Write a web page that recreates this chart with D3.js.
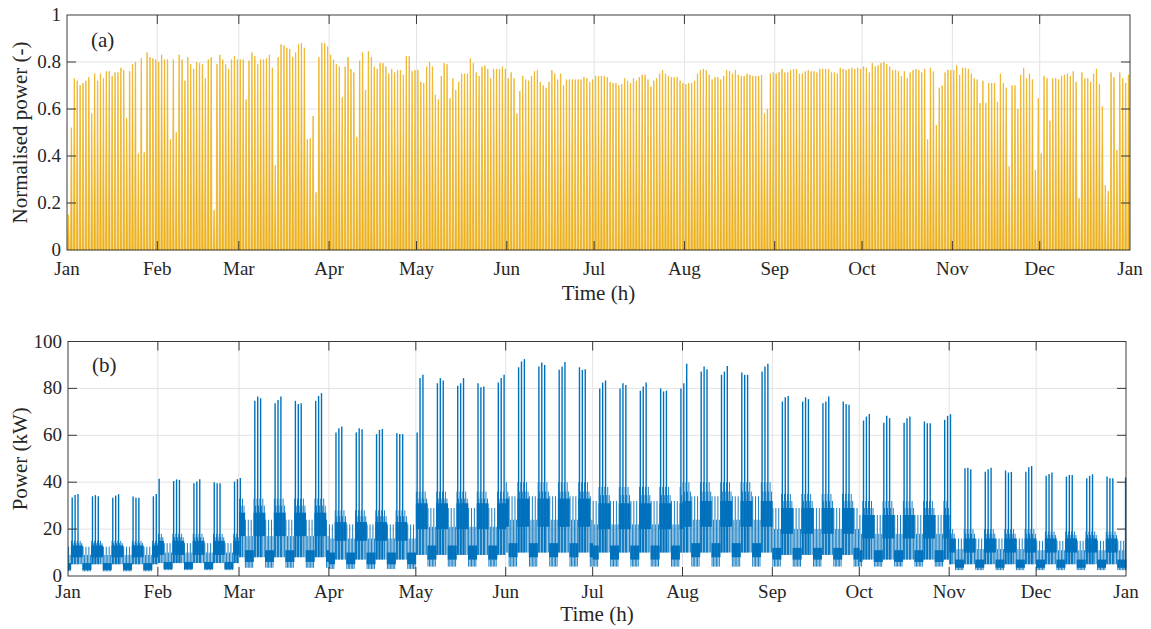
<!DOCTYPE html>
<html><head><meta charset="utf-8">
<script src="https://cdn.jsdelivr.net/npm/d3@7"></script>
<style>
body{margin:0;background:#fff}
svg{display:block}
text{font-family:"Liberation Serif","Times New Roman",serif;fill:#262626}
</style>
</head><body>
<svg id="c" width="1151" height="629"></svg>
<script>
// ---------- shared axis data ----------
const monthLabels = ["Jan","Feb","Mar","Apr","May","Jun","Jul","Aug","Sep","Oct","Nov","Dec","Jan"];
const monthStarts = [0,31,59,90,120,151,181,212,243,273,304,334,365];

// ---------- panel (a): daily peak of normalised PV power ----------
const pvJan = [0.15,0.52,0.73,0.72,0.70,0.71,0.72,0.735,0.58,0.75,0.72,0.75,0.73,0.76,0.76,0.74,0.755,0.755,0.775,0.765,0.56,0.76,0.79,0.80,0.41,0.815,0.415,0.84,0.82,0.815,0.81];
const pvFeb = [0.80,0.83,0.81,0.81,0.47,0.81,0.50,0.83,0.81,0.72,0.82,0.79,0.77,0.80,0.795,0.79,0.73,0.81,0.82,0.17,0.79,0.83,0.81,0.79,0.77,0.81,0.825,0.81];
const pvMar = [0.81,0.81,0.64,0.805,0.84,0.825,0.79,0.81,0.81,0.815,0.83,0.775,0.36,0.82,0.875,0.87,0.86,0.855,0.82,0.84,0.875,0.88,0.86,0.47,0.475,0.57,0.245,0.82,0.88,0.88,0.865];
const pvApr = [0.83,0.81,0.79,0.78,0.65,0.78,0.82,0.77,0.755,0.48,0.805,0.84,0.68,0.845,0.82,0.78,0.77,0.795,0.795,0.78,0.75,0.77,0.755,0.765,0.765,0.745,0.825,0.825,0.76,0.765];
const pvMay = [0.765,0.715,0.71,0.78,0.80,0.78,0.66,0.64,0.74,0.795,0.79,0.645,0.73,0.68,0.715,0.75,0.75,0.75,0.815,0.795,0.755,0.74,0.78,0.785,0.77,0.73,0.77,0.77,0.77,0.78,0.77];
const pvJun = [0.73,0.755,0.73,0.58,0.675,0.74,0.725,0.72,0.74,0.76,0.765,0.715,0.70,0.69,0.715,0.765,0.75,0.725,0.75,0.70,0.725,0.725,0.725,0.725,0.725,0.725,0.735,0.73,0.715,0.725];
const pvJul = [0.74,0.74,0.74,0.74,0.735,0.715,0.71,0.71,0.70,0.705,0.73,0.72,0.71,0.73,0.72,0.735,0.745,0.745,0.725,0.695,0.72,0.73,0.75,0.765,0.75,0.74,0.735,0.735,0.735,0.72,0.71];
const pvAug = [0.705,0.71,0.71,0.72,0.75,0.765,0.77,0.765,0.745,0.725,0.735,0.735,0.725,0.74,0.765,0.76,0.75,0.765,0.745,0.74,0.74,0.75,0.745,0.74,0.74,0.74,0.745,0.58,0.60,0.75,0.755];
const pvSep = [0.75,0.755,0.77,0.755,0.755,0.765,0.77,0.77,0.75,0.75,0.76,0.765,0.76,0.76,0.755,0.77,0.77,0.77,0.77,0.755,0.755,0.75,0.775,0.77,0.765,0.77,0.775,0.77,0.775,0.77];
const pvOct = [0.78,0.775,0.755,0.795,0.78,0.785,0.795,0.80,0.79,0.78,0.765,0.765,0.76,0.74,0.76,0.73,0.755,0.765,0.77,0.765,0.755,0.77,0.47,0.775,0.76,0.53,0.69,0.70,0.755,0.765,0.765];
const pvNov = [0.765,0.785,0.745,0.775,0.775,0.77,0.75,0.73,0.725,0.625,0.72,0.625,0.71,0.71,0.71,0.63,0.75,0.71,0.69,0.355,0.70,0.70,0.60,0.745,0.775,0.73,0.75,0.725,0.34,0.645];
const pvDec = [0.41,0.74,0.73,0.55,0.73,0.73,0.725,0.74,0.745,0.75,0.74,0.76,0.715,0.22,0.755,0.73,0.73,0.715,0.75,0.77,0.705,0.61,0.275,0.25,0.755,0.735,0.425,0.755,0.73,0.71,0.745];
const pvTicks = [0,0.2,0.4,0.6,0.8,1];

// ---------- panel (b): load power ----------
const kwTicks = [0,20,40,60,80,100];
// type of each day of the 7-day cycle (day 0 = 1 Jan)
const weekdayType = ["off","spike","spike","spike","work","off","off"];
// three daily peaks of every weekly peak cluster (kW)
const spikePeaks = [
 [33.5,34.5,35],[34,34.5,34],[33.4,34.3,34.9],[33.9,33.4,33.4],[34,35,41.5],
 [40.5,41.2,41],[39.5,40.3,41.3],[40,39.5,39.5],[40.3,41.3,41.8],
 [74.7,76.5,75.8],[73.7,75.1,76.5],[74.7,73.4,73.7],[74.7,76.8,78],
 [61.2,63,63.7],[61.2,63,62.6],[60.5,62.3,62.7],[60.9,60.6,60.5],
 [61.2,84.4,85.8],[82.2,84.4,83.4],[81.1,82.2,84.4],[82.2,80.5,80.8],[82.5,84.4,85.8],
 [89,91.5,92.5],[89.3,91,90],[87.9,89.3,91.3],[89,87.9,88.2],
 [80,82.5,83.4],[80,82.2,81.5],[79,80.8,82.5],[80,78.7,79],
 [80,82.2,90.5],[87.2,89.3,88.2],[85.8,87.2,89.6],[86.8,85.8,85.8],[87.2,89.3,90.5],
 [74.4,76.2,76.8],[74.4,76.2,75.4],[73.7,74.4,76.5],[74.4,73.4,73],
 [66.3,68,69.1],[65.4,68.3,67.3],[65.4,67.3,68],[65.9,65.1,65.1],[66.6,68.3,69],
 [46,46.2,45.5],[44.5,45.5,46.2],[45,44.1,44.4],[44.5,46.4,46.9],
 [42.7,43.5,44.1],[42.4,43.1,43.1],[41.7,42.7,43.4],[42.4,41.7,41.7]
];
const yearEndPeak = 42;
// monthly levels of the daily load (kW)
const workMin = [5,5.5,8,7,9,10,10,10,9,7,5,5];
const workLo  = [8,9,17,15,20,21,20,21,18,16,10,10];
const workHi  = [13,15,27,23,31,33,31,32,29,26,16,16];
const workMid = [14,16.5,30,25.5,33,36,34.5,36,32,29,18,17.5];
const workTip = [15,18,33,28,36,40,38,40,35,32,20,19];
const offMin  = [2,2.5,3.5,3,4,4,4,4,4,4,2.5,2.5];
const offLo   = [2.6,3,6,5,7,8,7,8,7,6,3.5,3.5];
const offHi   = [5.5,6,11,10,13,14,13,14,12,11,7,7];
const offMid  = [9,10,17,16,21,24,22,24,20,18,11.5,11];
const offTip  = [12.5,14,24,22,29,34,32,34,29,26,16,15];

// ---------- drawing ----------
const svg = d3.select("#c");
const PV = "#EDB120", BL = "#0072BD", AX = "#262626", GR = "#e3e3e3";
const pvAll = [pvJan,pvFeb,pvMar,pvApr,pvMay,pvJun,pvJul,pvAug,pvSep,pvOct,pvNov,pvDec].flat();
const monthOf = d => d3.bisectRight(monthStarts, d) - 1;

function panel(cfg){
  const {x, y, ticks, fmt, ylabel, tag, tagY, tickGap, titleGap} = cfg;
  const g = svg.append("g");
  const [x0,x1] = x.range(), [y0,y1] = y.range(); // y0 bottom
  const grid = g.append("g");
  grid.selectAll("line.h").data(ticks.slice(1,-1)).join("line")
    .attr("x1",x0).attr("x2",x1).attr("y1",d=>y(d)).attr("y2",d=>y(d))
    .attr("stroke",GR).attr("stroke-width",1);
  grid.selectAll("line.v").data(monthStarts.slice(1,-1)).join("line")
    .attr("y1",y0).attr("y2",y1).attr("x1",d=>x(d)).attr("x2",d=>x(d))
    .attr("stroke",GR).attr("stroke-width",1);
  const data = g.append("g");
  const over = g.append("g");
  over.append("rect").attr("x",x0).attr("y",y1).attr("width",x1-x0).attr("height",y0-y1)
    .attr("fill","none").attr("stroke",AX).attr("stroke-width",0.9);
  const tl = 9;
  const xt = monthStarts.slice(1,-1);
  over.selectAll("line.xb").data(xt).join("line")
    .attr("x1",d=>x(d)).attr("x2",d=>x(d)).attr("y1",y0).attr("y2",y0-tl).attr("stroke",AX).attr("stroke-width",0.9);
  over.selectAll("line.xt").data(xt).join("line")
    .attr("x1",d=>x(d)).attr("x2",d=>x(d)).attr("y1",y1).attr("y2",y1+tl).attr("stroke",AX).attr("stroke-width",0.9);
  const yt = ticks.slice(1,-1);
  over.selectAll("line.yl").data(yt).join("line")
    .attr("x1",x0).attr("x2",x0+tl).attr("y1",d=>y(d)).attr("y2",d=>y(d)).attr("stroke",AX).attr("stroke-width",0.9);
  over.selectAll("line.yr").data(yt).join("line")
    .attr("x1",x1).attr("x2",x1-tl).attr("y1",d=>y(d)).attr("y2",d=>y(d)).attr("stroke",AX).attr("stroke-width",0.9);
  over.selectAll("text.xl").data(monthStarts).join("text")
    .attr("x",(d)=>x(d)).attr("y",y0+tickGap).attr("text-anchor","middle")
    .attr("font-size",19).text((d,i)=>monthLabels[i]);
  over.selectAll("text.yl").data(ticks).join("text")
    .attr("x",x0-6).attr("y",d=>y(d)).attr("dy","0.32em").attr("text-anchor","end")
    .attr("font-size",19).text(fmt);
  over.append("text").attr("x",(x0+x1)/2).attr("y",y0+titleGap).attr("text-anchor","middle")
    .attr("font-size",21).text("Time (h)");
  over.append("text").attr("transform",`translate(27,${(y0+y1)/2}) rotate(-90)`)
    .attr("text-anchor","middle").attr("font-size",21).text(ylabel);
  over.append("text").attr("x",x0+24).attr("y",tagY).attr("font-size",21).text(tag);
  return data;
}

// panel (a)
const xa = d3.scaleLinear().domain([0,365]).range([67,1130]);
const ya = d3.scaleLinear().domain([0,1]).range([250,15]);
const da = panel({x:xa, y:ya, ticks:pvTicks, fmt:d=>String(d), ylabel:"Normalised power (-)", tag:"(a)", tagY:47, tickGap:25, titleGap:50});
da.selectAll("path").data(pvAll).join("path")
  .attr("d",(p,d)=>{
    const a=xa(d+5/24), b=xa(d+10.5/24), c=xa(d+13.5/24), e=xa(d+19/24);
    return `M${a},${ya(0)}L${b},${ya(p)}L${c},${ya(p)}L${e},${ya(0)}Z`;
  })
  .attr("fill",PV).attr("stroke",PV).attr("stroke-width",0.7).attr("stroke-linejoin","round");

// panel (b)
const xb = d3.scaleLinear().domain([0,365]).range([68,1126]);
const yb = d3.scaleLinear().domain([0,100]).range([576,341.5]);
const db = panel({x:xb, y:yb, ticks:kwTicks, fmt:d=>String(d), ylabel:"Power (kW)", tag:"(b)", tagY:372, tickGap:22, titleGap:45});
const days = d3.range(365).map(d=>{
  const m = monthOf(d), t = weekdayType[d%7], w = Math.floor(d/7);
  const off = t==="off";
  return {d, t,
    min: off?offMin[m]:workMin[m], lo: off?offLo[m]:workLo[m], hi: off?offHi[m]:workHi[m],
    mid: off?offMid[m]:workMid[m], tip: off?offTip[m]:workTip[m],
    spike: t==="spike" && spikePeaks[w] ? spikePeaks[w][(d%7)-1] : null};
});
// dense daily band
db.selectAll("rect.band").data(days).join("rect")
  .attr("x",o=>xb(o.d)).attr("width",xb(1)-xb(0)+0.3)
  .attr("y",o=>yb(o.hi)).attr("height",o=>yb(o.lo)-yb(o.hi))
  .attr("fill",BL);
// daily excursions
db.selectAll("g.day").data(days).join("g").each(function(o){
  const g = d3.select(this);
  g.append("line").attr("x1",xb(o.d+0.2)).attr("x2",xb(o.d+0.2))
    .attr("y1",yb(o.min)).attr("y2",yb(o.tip)).attr("stroke",BL).attr("stroke-width",0.9);
  g.append("line").attr("x1",xb(o.d+0.72)).attr("x2",xb(o.d+0.72))
    .attr("y1",yb(o.min)).attr("y2",yb(o.mid)).attr("stroke",BL).attr("stroke-width",0.9);
  if(o.spike!=null){
    g.append("line").attr("x1",xb(o.d+0.45)).attr("x2",xb(o.d+0.45))
      .attr("y1",yb(o.min)).attr("y2",yb(o.spike)).attr("stroke",BL).attr("stroke-width",1.4);
  }
});
db.append("line").attr("x1",xb(364.85)).attr("x2",xb(364.85))
  .attr("y1",yb(offMin[11])).attr("y2",yb(yearEndPeak)).attr("stroke",BL).attr("stroke-width",1.4);
</script>
</body></html>
